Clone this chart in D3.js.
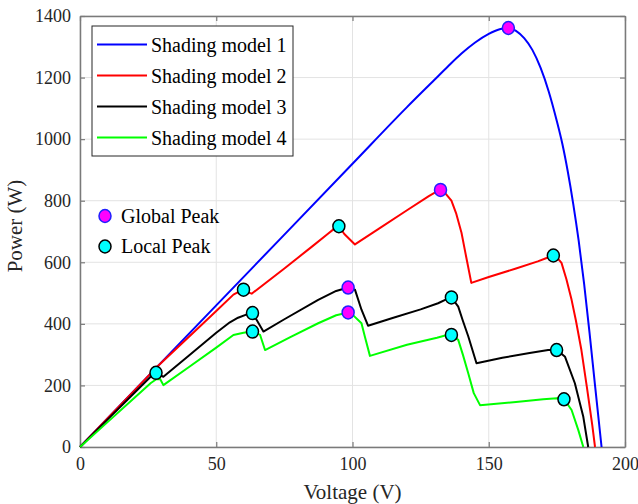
<!doctype html>
<html>
<head>
	<title>PV curves under shading</title>
	<meta charset="UTF-8">
	<script src="https://d3js.org/d3.v7.min.js"></script>
	<style>
		body { margin: 0; background: #fff; }
		text { font-family: "Liberation Serif", "Times New Roman", serif; }
	</style>
</head>
<body>
	<script>
		// Series names
		var seriesNames = ["Shading model 1", "Shading model 2", "Shading model 3", "Shading model 4"];
		var seriesColors = ["#0000ff", "#ff0000", "#000000", "#00ff00"];

		// Voltage (V) / power (W) points
		var model1 = [[0,0],[50,460],[100,920],[120,1104],[130,1192],[135,1236],[140,1278],[145,1314],[150,1342],[154,1357],[157.2,1361],
			[160,1352],[163,1328],[166,1290],[169,1232],[172,1155],[175,1058],[177,985],[179,895],[181,790],[183,670],
			[185,530],[187,370],[189,200],[191.4,0]];
		var model2 = [[0,0],[10,92],[20,184],[28,258],[40,358],[50,442],[56.3,495],[58,503],[60,510],[61.5,503],[63,498],
			[75,580],[85,650],[91,693],[93,707],[95,717],[97,692],[100.9,658],[110,711],[120,769],[128,815],[131,830],[132.3,835],
			[134,825],[136.3,800],[138,760],[140,696],[141.2,641],[142,605],[143.6,533],
			[150,552],[160,580],[168,603],[171,613],[173.7,622],[175,616],[176.7,598],[178.5,545],[180.4,478],[182,410],
			[184,315],[186,195],[188,70],[189,0]];
		var model3 = [[0,0],[10,88],[20,176],[26,229],[27.9,243],[29,236],[30.6,228],[40,297],[50,371],[55,405],[58,420],
			[61,430],[63.3,435],[65,410],[67.3,375],[75,415],[87.4,478],[94,507],[98.4,518],[100.9,511],[103.3,446],[105.7,394],
			[115,420],[125,447],[131.4,467],[134,478],[136.3,486],[138.8,456],[140.5,410],[142.5,359],[145.5,272],
			[155,290],[165,305],[171.8,315],[174.9,316],[178,293],[181.6,207],[184.7,98],[186.5,0]];
		var model4 = [[0,0],[10,80],[20,160],[26,208],[28,220],[29.4,221],[30.6,201],[40,260],[50,323],[56.3,364],[60,371],
			[63.3,375],[66.1,364],[67.9,315],[77,356],[87.4,402],[94,428],[98.4,437],[100,430],[103.3,402],[104.5,360],[106.4,296],
			[120,332],[131,355],[134,362],[136.3,364],[138.8,348],[140.5,300],[142.5,239],[144.5,175],[146.8,136],
			[160,146],[170,155],[175,158],[177.6,156],[180.4,120],[182.9,54],[184.7,0]];
		var curves = [model1, model2, model3, model4];

		// Peak markers
		var globalPeaks = [[157.2,1361],[132.3,835],[98.4,518],[98.4,437]];
		var localPeaks = [[27.9,241],[60,511],[95,717],[173.7,622],[63.3,435],[63.3,375],[136.3,486],[136.3,364],[174.9,315],[177.6,155]];

		// Ticks
		var xTicks = [0, 50, 100, 150, 200];
		var yTicks = [0, 200, 400, 600, 800, 1000, 1200, 1400];

		var W = 638, H = 504;
		var margin = {top: 16, right: 13, bottom: 57, left: 80},
			width = W - margin.left - margin.right,
			height = H - margin.top - margin.bottom;

		var x = d3.scaleLinear().domain([0, 200]).range([0, width]);
		var y = d3.scaleLinear().domain([0, 1400]).range([height, 0]);

		var svg = d3.select("body").append("svg")
			.attr("width", W)
			.attr("height", H);
		var g = svg.append("g")
			.attr("transform", "translate(" + margin.left + "," + margin.top + ")");

		// Grid lines
		g.selectAll(".gx").data(xTicks).enter().append("line")
			.attr("x1", d => x(d)).attr("x2", d => x(d))
			.attr("y1", 0).attr("y2", height)
			.attr("stroke", "#e3e3e3").attr("stroke-width", 1);
		g.selectAll(".gy").data(yTicks).enter().append("line")
			.attr("x1", 0).attr("x2", width)
			.attr("y1", d => y(d)).attr("y2", d => y(d))
			.attr("stroke", "#e3e3e3").attr("stroke-width", 1);

		// Axes, ticks inward on all four sides
		function styleAxis(sel) {
			sel.attr("font-family", null);
			sel.select(".domain").attr("stroke", "#7a7a7a").attr("stroke-width", 1.5);
			sel.selectAll(".tick line").attr("stroke", "#7a7a7a").attr("stroke-width", 1.2);
			sel.selectAll("text").attr("fill", "#262626").style("font-size", "18px");
		}
		var fmt = d3.format("d");
		g.append("g").attr("transform", "translate(0," + height + ")")
			.call(d3.axisBottom(x).tickValues(xTicks).tickFormat(fmt).tickSizeInner(-5).tickSizeOuter(0).tickPadding(10))
			.call(styleAxis);
		g.append("g")
			.call(d3.axisLeft(y).tickValues(yTicks).tickFormat(fmt).tickSizeInner(-5).tickSizeOuter(0).tickPadding(9))
			.call(styleAxis);
		g.append("g")
			.call(d3.axisTop(x).tickValues(xTicks).tickSizeInner(-5).tickSizeOuter(0).tickFormat(""))
			.call(styleAxis);
		g.append("g").attr("transform", "translate(" + width + ",0)")
			.call(d3.axisRight(y).tickValues(yTicks).tickSizeInner(-5).tickSizeOuter(0).tickFormat(""))
			.call(styleAxis);

		// Curves (model 1 is smooth, the others keep their sharp knees)
		var smooth = d3.line().x(d => x(d[0])).y(d => y(d[1])).curve(d3.curveMonotoneX);
		var line = d3.line().x(d => x(d[0])).y(d => y(d[1]));
		curves.forEach(function(c, i) {
			g.append("path")
				.datum(c)
				.attr("fill", "none")
				.attr("stroke", seriesColors[i])
				.attr("stroke-width", 2)
				.attr("stroke-linejoin", "round")
				.attr("d", i == 0 ? smooth : line);
		});

		// Markers
		g.selectAll(".lp").data(localPeaks).enter().append("ellipse")
			.attr("cx", d => x(d[0])).attr("cy", d => y(d[1]))
			.attr("rx", 6).attr("ry", 6.5)
			.attr("fill", "#00ffff").attr("stroke", "#000").attr("stroke-width", 1.5);
		g.selectAll(".gp").data(globalPeaks).enter().append("ellipse")
			.attr("cx", d => x(d[0])).attr("cy", d => y(d[1]))
			.attr("rx", 6).attr("ry", 6.5)
			.attr("fill", "#ff00ff").attr("stroke", "#2020ff").attr("stroke-width", 1.5);

		// Legend box for curves
		var leg = svg.append("g");
		leg.append("rect")
			.attr("x", 92).attr("y", 26).attr("width", 201).attr("height", 130)
			.attr("fill", "#fff").attr("stroke", "#262626").attr("stroke-width", 1);
		seriesNames.forEach(function(name, i) {
			var ly = 44.5 + i * 31;
			leg.append("line")
				.attr("x1", 97).attr("x2", 147).attr("y1", ly).attr("y2", ly)
				.attr("stroke", seriesColors[i]).attr("stroke-width", 2);
			leg.append("text")
				.attr("x", 151).attr("y", ly + 7)
				.style("font-size", "20px").attr("fill", "#000")
				.text(name);
		});

		// Marker legend (no box)
		var mk = [["Global Peak", "#ff00ff", "#2020ff"], ["Local Peak", "#00ffff", "#000"]];
		mk.forEach(function(m, i) {
			var my = 216 + i * 30.5;
			svg.append("ellipse")
				.attr("cx", 105).attr("cy", my).attr("rx", 6).attr("ry", 6.5)
				.attr("fill", m[1]).attr("stroke", m[2]).attr("stroke-width", 1.5);
			svg.append("text")
				.attr("x", 121).attr("y", my + 6.5)
				.style("font-size", "20px").attr("fill", "#000")
				.text(m[0]);
		});

		// Axis titles
		svg.append("text")
			.attr("x", margin.left + width / 2).attr("y", 499)
			.attr("text-anchor", "middle")
			.style("font-size", "21px").attr("fill", "#262626")
			.text("Voltage (V)");
		svg.append("text")
			.attr("transform", "translate(22," + 226 + ") rotate(-90)")
			.attr("text-anchor", "middle")
			.style("font-size", "21px").attr("fill", "#262626")
			.text("Power (W)");
	</script>
</body>
</html>
